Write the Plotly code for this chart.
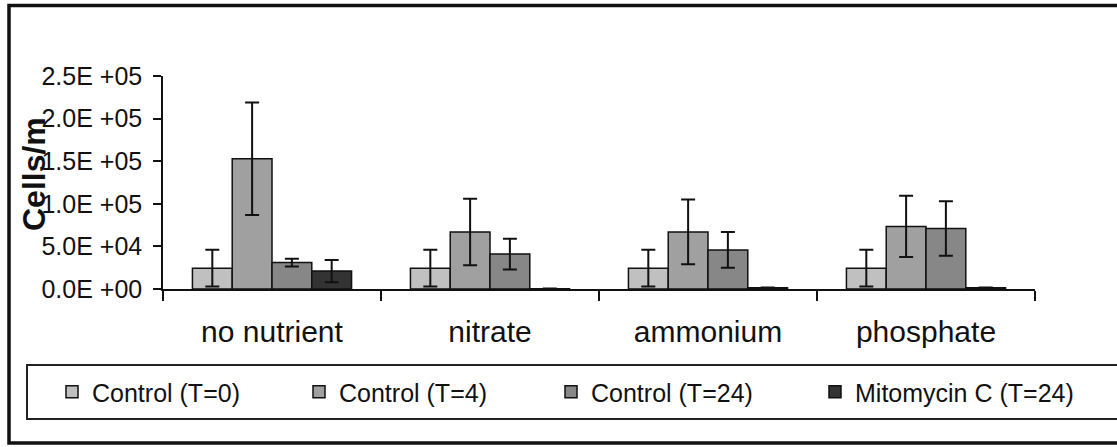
import plotly.graph_objects as go

categories = ["no nutrient", "nitrate", "ammonium", "phosphate"]
series_names = ["Control (T=0)", "Control (T=4)", "Control (T=24)", "Mitomycin C (T=24)"]
ctrl_t0 = [24500, 24500, 24500, 24500]
ctrl_t0_err = [21500, 21500, 21500, 21500]
ctrl_t4 = [153000, 67000, 67000, 73500]
ctrl_t4_err = [66000, 39000, 38000, 36000]
ctrl_t24 = [31000, 41000, 45800, 71000]
ctrl_t24_err = [4500, 18000, 21000, 32000]
mito_t24 = [21000, 300, 1500, 1500]
mito_t24_err = [13000, 300, 300, 300]
tick_vals = [0, 50000, 100000, 150000, 200000, 250000]
tick_text = ["0.0E +00", "5.0E +04", "1.0E +05", "1.5E +05", "2.0E +05", "2.5E +05"]

values = [ctrl_t0, ctrl_t4, ctrl_t24, mito_t24]
errors = [ctrl_t0_err, ctrl_t4_err, ctrl_t24_err, mito_t24_err]
colors = ["#c0c0c0", "#a0a0a0", "#878787", "#333333"]

W, H = 1117, 447
L, R, T, B = 163, 82, 76, 158
pw, ph = W - L - R, H - T - B
def px2x(p): return (p - L) / pw
def px2y(p): return (H - B - p) / ph

FONT = "Liberation Sans, Arial, sans-serif"
fig = go.Figure()
legend_names = ["legend", "legend2", "legend3", "legend4"]
for i in range(4):
    fig.add_trace(go.Bar(
        x=categories, y=values[i], name=series_names[i],
        marker=dict(color=colors[i], line=dict(color="#111111", width=1.5)),
        error_y=dict(type="data", array=errors[i], visible=True, color="#111111", thickness=2, width=7),
        legend=legend_names[i],
    ))

sym_centers = [73, 320, 572, 836]
legend_y = px2y(392)
legends = {}
for i, name in enumerate(legend_names):
    legends[name] = dict(
        x=px2x(sym_centers[i] - 21), y=legend_y, xanchor="left", yanchor="middle",
        orientation="h", bgcolor="rgba(0,0,0,0)", borderwidth=0,
        font=dict(family=FONT, size=25, color="#111111"),
    )

fig.update_layout(
    width=W, height=H,
    margin=dict(l=L, r=R, t=T, b=B, autoexpand=False),
    paper_bgcolor="white", plot_bgcolor="white",
    barmode="group", bargap=0.27, bargroupgap=0,
    font=dict(family=FONT, color="#111111"),
    showlegend=True,
    xaxis=dict(
        type="category", range=[-0.5, 3.5], showline=True, linecolor="#111111", linewidth=1.5,
        ticks="outside", tickson="boundaries", ticklen=10, tickwidth=1.5, tickcolor="#111111",
        tickfont=dict(family=FONT, size=30, color="#111111"), showgrid=False, zeroline=False,
        ticklabelstandoff=15,
    ),
    yaxis=dict(
        range=[0, 250000], tickvals=tick_vals, ticktext=tick_text, showline=True,
        linecolor="#111111", linewidth=1.5, ticks="outside", ticklen=8, tickwidth=1.5,
        tickcolor="#111111", tickfont=dict(family=FONT, size=25, color="#111111"),
        showgrid=False, zeroline=False, ticklabelstandoff=6,
    ),
    annotations=[dict(
        text="<b>Cells/m</b>", xref="paper", yref="paper", x=px2x(34), y=px2y(174),
        xanchor="center", yanchor="middle", textangle=-90, showarrow=False,
        font=dict(family=FONT, size=32, color="#111111"),
    )],
    shapes=[
        dict(type="rect", xref="paper", yref="paper", x0=px2x(9), x1=px2x(1130),
             y0=px2y(5.5), y1=px2y(443), line=dict(color="#111111", width=3.5), layer="below"),
        dict(type="rect", xref="paper", yref="paper", x0=px2x(27), x1=px2x(1130),
             y0=px2y(365), y1=px2y(419), line=dict(color="#222222", width=2), layer="below"),
    ],
    **legends,
)
fig.write_html("out.html", config={"displayModeBar": False},
               post_script="document.body.style.margin='0';document.body.style.overflow='hidden';")
